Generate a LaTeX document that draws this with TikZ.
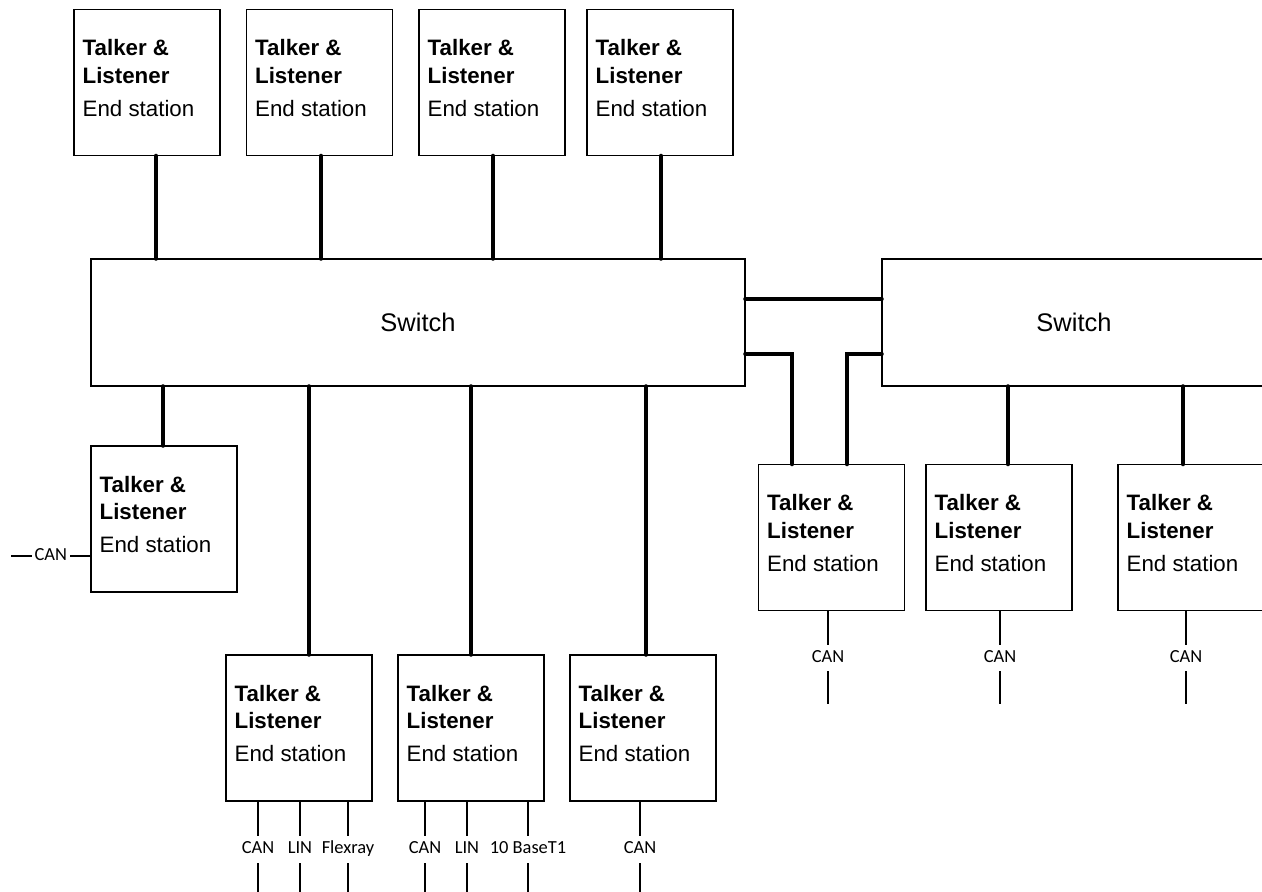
\documentclass[tikz,border=0pt]{standalone}
\usepackage{fontspec}
\setmainfont{Liberation Sans}
\newfontfamily\busfont{Carlito}
\newcommand{\talker}{\textbf{Talker \&}\\\textbf{Listener}\\[3.4pt]End station}

\begin{document}
\begin{tikzpicture}[x=0.02cm,y=-0.02cm,
  station/.style={draw,line width=0.8pt,minimum width=2.92cm,minimum height=2.92cm,inner sep=0pt,
    label={[anchor=north west,inner sep=0pt,align=left,xshift=0.18cm,yshift=-0.61cm,
      font=\fontsize{12.7pt}{15.5pt}\selectfont]north west:\talker}},
  swbox/.style={draw,line width=0.8pt,minimum height=2.54cm,font=\fontsize{14.5pt}{17pt}\selectfont},
  cable/.style={line width=2.8pt,line cap=round},
  bus/.style={line width=0.6pt},
  bustag/.style={fill=white,inner xsep=1.5pt,inner ysep=3pt,text height=7pt,text depth=2pt,
    font=\busfont\fontsize{10.5pt}{12pt}\selectfont}]
\clip (0,0) rectangle (1262,892);
\node[station] (t1) at (147,82.5) {};
\node[station] (t2) at (319.5,82.5) {};
\node[station] (t3) at (492,82.5) {};
\node[station] (t4) at (660,82.5) {};
\node[swbox,minimum width=13.08cm] (sw1) at (418,322.5) {Switch};
\node[swbox,minimum width=7.68cm] (sw2) at (1074,322.5) {Switch};
\node[station] (l1) at (164,519) {};
\node[station] (b1) at (299,728) {};
\node[station] (b2) at (471,728) {};
\node[station] (b3) at (643,728) {};
\node[station] (r1) at (831.5,537.5) {};
\node[station] (r2) at (999,537.5) {};
\node[station] (r3) at (1191,537.5) {};
\foreach \n/\x in {t1/156,t2/321,t3/493,t4/661}
  \draw[cable] (\x,0 |- \n.south) -- (\x,0 |- sw1.north);
\foreach \n/\x in {l1/163,b1/309,b2/471,b3/646}
  \draw[cable] (\x,0 |- sw1.south) -- (\x,0 |- \n.north);
\foreach \n/\x in {r2/1008,r3/1183}
  \draw[cable] (\x,0 |- sw2.south) -- (\x,0 |- \n.north);
\draw[cable] (sw1.east |- 0,299) -- (sw2.west |- 0,299);
\draw[cable] (sw1.east |- 0,354) -| (792,0 |- r1.north);
\draw[cable] (sw2.west |- 0,354) -| (847,0 |- r1.north);
\foreach \n/\x/\t in {b1/258/CAN,b1/300/LIN,b1/348/Flexray,b2/425/CAN,b2/467/LIN,b2/528/10 BaseT1,b3/640/CAN}
  \draw[bus] (\x,0 |- \n.south) -- ++(0,92) node[bustag,pos=.52] {\t};
\foreach \n/\x in {r1/828,r2/1000,r3/1186}
  \draw[bus] (\x,0 |- \n.south) -- ++(0,93) node[bustag,midway] {CAN};
\draw[bus] (l1.west |- 0,556) -- ++(-79,0) node[bustag,midway] {CAN};
\end{tikzpicture}
\end{document}
